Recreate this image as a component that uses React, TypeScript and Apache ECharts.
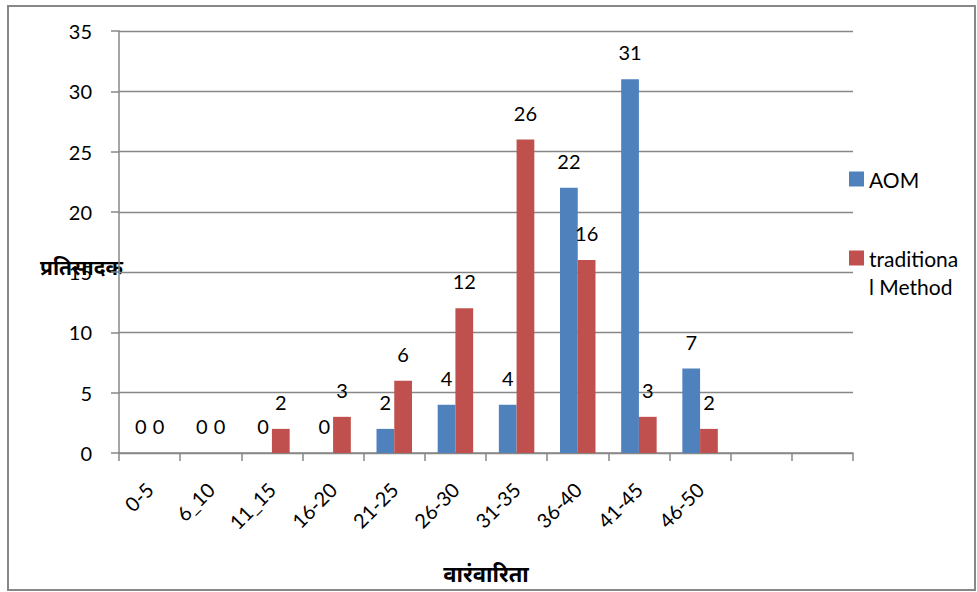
import React, { useEffect, useRef } from "react";
import * as echarts from "echarts";

const categories = ["0-5", "6_10", "11_15", "16-20", "21-25", "26-30", "31-35", "36-40", "41-45", "46-50", "", " "];
const aomValues: (number | string)[] = [0, 0, 0, 0, 2, 4, 4, 22, 31, 7, "-", "-"];
const traditionalValues: (number | string)[] = [0, 0, 2, 3, 6, 12, 26, 16, 3, 2, "-", "-"];
const yTicks = { min: 0, max: 35, interval: 5 };
const seriesNames = ["AOM", "traditional Method"];
const legendLines = ["traditiona", "l Method"];
const yAxisTitle = "प्रतिसादक";
const xAxisTitle = "वारंवारिता";

const FONT = "Lato, 'Open Sans', sans-serif";
const DEVA = "'Noto Sans Devanagari', 'Lohit Devanagari', 'Noto Sans', sans-serif";

export default function App() {
  const ref = useRef<HTMLDivElement>(null);
  useEffect(() => {
    document.body.style.margin = "0";
    if (!ref.current) return;
    const chart = echarts.init(ref.current, undefined, { renderer: "svg", width: 977, height: 592 });
    const labelCfg = {
      show: true,
      position: "top" as const,
      distance: 17,
      fontSize: 20,
      color: "#000",
      fontFamily: FONT,
    };
    chart.setOption({
      animation: false,
      backgroundColor: "#fff",
      grid: { left: 119, right: 124, top: 31, bottom: 139, containLabel: false },
      xAxis: {
        type: "category",
        data: categories,
        boundaryGap: true,
        axisLine: { show: true, lineStyle: { color: "#878787", width: 1.5 } },
        axisTick: { show: true, alignWithLabel: false, length: 8, lineStyle: { color: "#878787", width: 1.5 } },
        axisLabel: { rotate: 45, fontSize: 20, color: "#000", fontFamily: FONT, margin: 33, interval: 0 },
        name: xAxisTitle,
        nameLocation: "middle",
        nameGap: 112,
        nameTextStyle: { fontSize: 22, fontWeight: "bold", color: "#000", fontFamily: DEVA },
      },
      yAxis: {
        type: "value",
        min: yTicks.min,
        max: yTicks.max,
        interval: yTicks.interval,
        axisLine: { show: true, lineStyle: { color: "#878787", width: 1.5 } },
        axisTick: { show: true, length: 8, lineStyle: { color: "#878787", width: 1.5 } },
        axisLabel: { fontSize: 20, color: "#000", fontFamily: FONT, margin: 27 },
        splitLine: { show: true, lineStyle: { color: "#878787", width: 1.3 } },
      },
      legend: {
        orient: "vertical",
        left: 844,
        top: 159,
        itemWidth: 15,
        itemHeight: 15,
        itemGap: 49,
        icon: "rect",
        textStyle: { fontSize: 21, color: "#000", fontFamily: FONT, lineHeight: 30 },
        formatter: (name: string) => (name === seriesNames[1] ? legendLines[0] : name),
        data: seriesNames,
      },
      graphic: [
        {
          type: "rect",
          shape: { x: 8, y: 6, width: 967, height: 584 },
          style: { fill: "none", stroke: "#878787", lineWidth: 2 },
          silent: true,
        },
        {
          type: "text",
          left: 40,
          top: 259,
          style: { text: yAxisTitle, fontSize: 21, fontWeight: "bold", fill: "#000", fontFamily: DEVA },
        },
        {
          type: "text",
          x: 869,
          y: 286,
          style: {
            text: legendLines[1],
            fontSize: 21,
            fill: "#000",
            fontFamily: FONT,
            verticalAlign: "middle",
            align: "left",
          },
        },
      ],
      series: [
        {
          name: seriesNames[0],
          type: "bar",
          data: aomValues,
          barGap: "0%",
          barCategoryGap: "42%",
          itemStyle: { color: "#4F81BD" },
          label: labelCfg,
        },
        {
          name: seriesNames[1],
          type: "bar",
          data: traditionalValues,
          barGap: "0%",
          barCategoryGap: "42%",
          itemStyle: { color: "#C0504D" },
          label: labelCfg,
        },
      ],
    });
    return () => chart.dispose();
  }, []);
  return <div ref={ref} style={{ width: 977, height: 592 }} />;
}
